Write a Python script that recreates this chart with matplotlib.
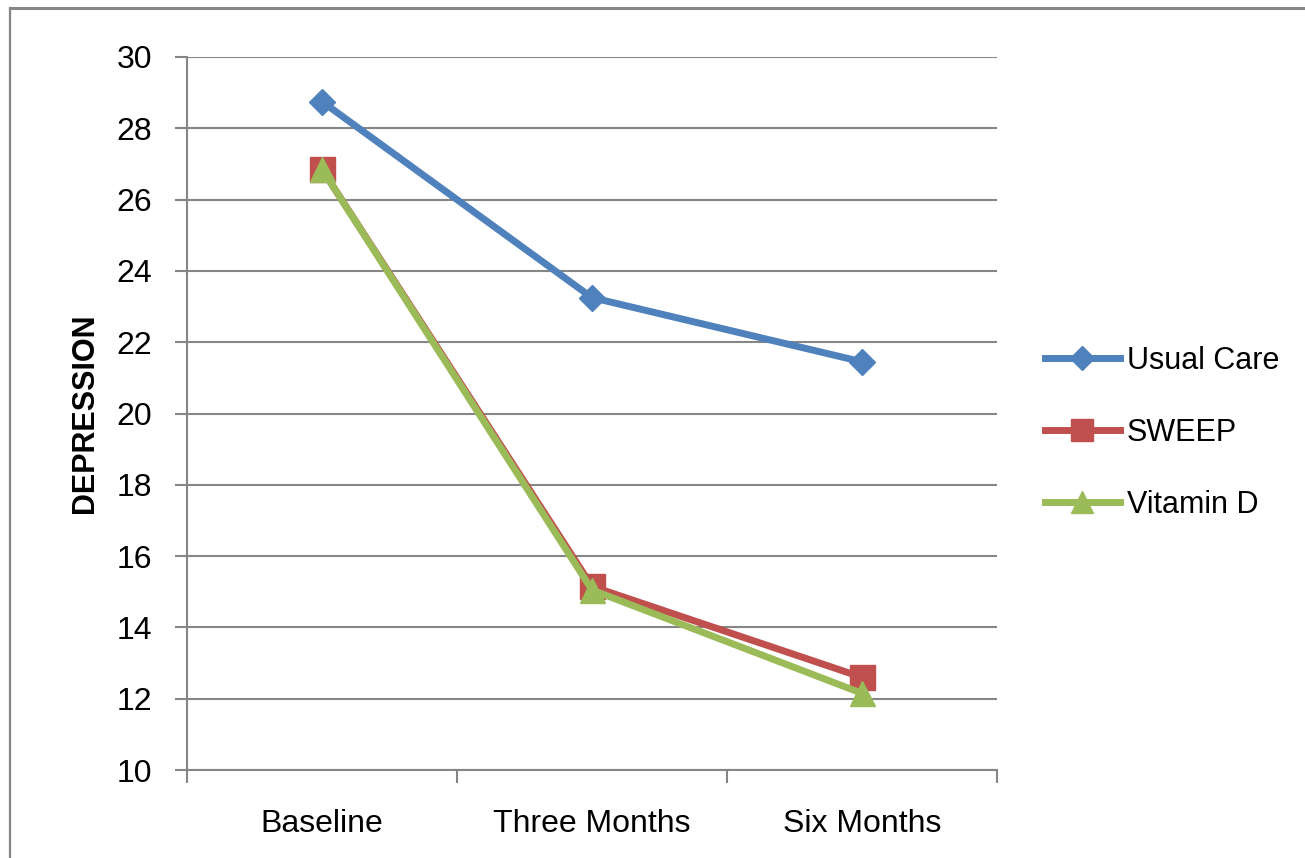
import matplotlib
matplotlib.use("Agg")
import matplotlib.pyplot as plt
from matplotlib.lines import Line2D

categories = ["Baseline", "Three Months", "Six Months"]
usual_care = [28.75, 23.25, 21.45]
sweep = [26.85, 15.15, 12.6]
vitamin_d = [26.85, 15.05, 12.15]
yticks = [10, 12, 14, 16, 18, 20, 22, 24, 26, 28, 30]

plt.rcParams['font.family'] = ['Liberation Sans', 'DejaVu Sans']

fig = plt.figure(figsize=(13.05, 8.58), dpi=100)
ax = fig.add_axes([187/1305, 1-770/858, (997-187)/1305, (770-57)/858])

grid_c = "#868686"
x = list(range(len(categories)))
series = [
    ("Usual Care", usual_care, "#4F81BD", "D", 13.5),
    ("SWEEP", sweep, "#C0504D", "s", 18),
    ("Vitamin D", vitamin_d, "#9BBB59", "^", 18),
]
handles = []
for name, vals, c, m, ms in series:
    ax.plot(x, vals, color=c, lw=5, marker=m, ms=ms, mec=c, mfc=c, zorder=3,
            solid_joinstyle='round', label=name)
    handles.append(Line2D([0], [0], color=c, lw=5, marker=m, ms=ms * 0.9, mec=c, mfc=c))

ax.set_xlim(-0.5, 2.5)
ax.set_ylim(10, 30)
ax.set_yticks(yticks)
ax.set_yticklabels([str(v) for v in yticks], fontsize=23)
ax.yaxis.grid(True, color=grid_c, lw=1.5)
ax.set_axisbelow(True)
ax.set_xticks([-0.5, 0.5, 1.5, 2.5])
ax.set_xticklabels([])
ax.set_xticks(x, minor=True)
ax.set_xticklabels(categories, minor=True, fontsize=23)
ax.tick_params(axis='x', which='minor', length=0, pad=28)
ax.tick_params(axis='x', which='major', length=9, width=1.5, color=grid_c)
ax.tick_params(axis='y', length=9, width=1.5, color=grid_c, pad=16)
for s in ["top", "right"]:
    ax.spines[s].set_visible(False)
for s in ["left", "bottom"]:
    ax.spines[s].set_color(grid_c)
    ax.spines[s].set_linewidth(1.5)

ax.set_ylabel("DEPRESSION", fontsize=22, fontweight='bold', labelpad=12)

fig.legend(handles, [s[0] for s in series], loc='center left',
           bbox_to_anchor=(1045/1305, 1-433/858), frameon=False, fontsize=22,
           handlelength=2.45, handletextpad=0.23, labelspacing=1.37,
           borderaxespad=0, borderpad=0)

# outer chart border (only top and left visible in the reference)
fig.add_artist(Line2D([9.5/1305, 1.0], [1-7.5/858, 1-7.5/858], transform=fig.transFigure,
                      color=grid_c, lw=2.2))
fig.add_artist(Line2D([9.5/1305, 9.5/1305], [0.0, 1-7.5/858], transform=fig.transFigure,
                      color=grid_c, lw=1.6))

fig.savefig("out.png", dpi=100)
